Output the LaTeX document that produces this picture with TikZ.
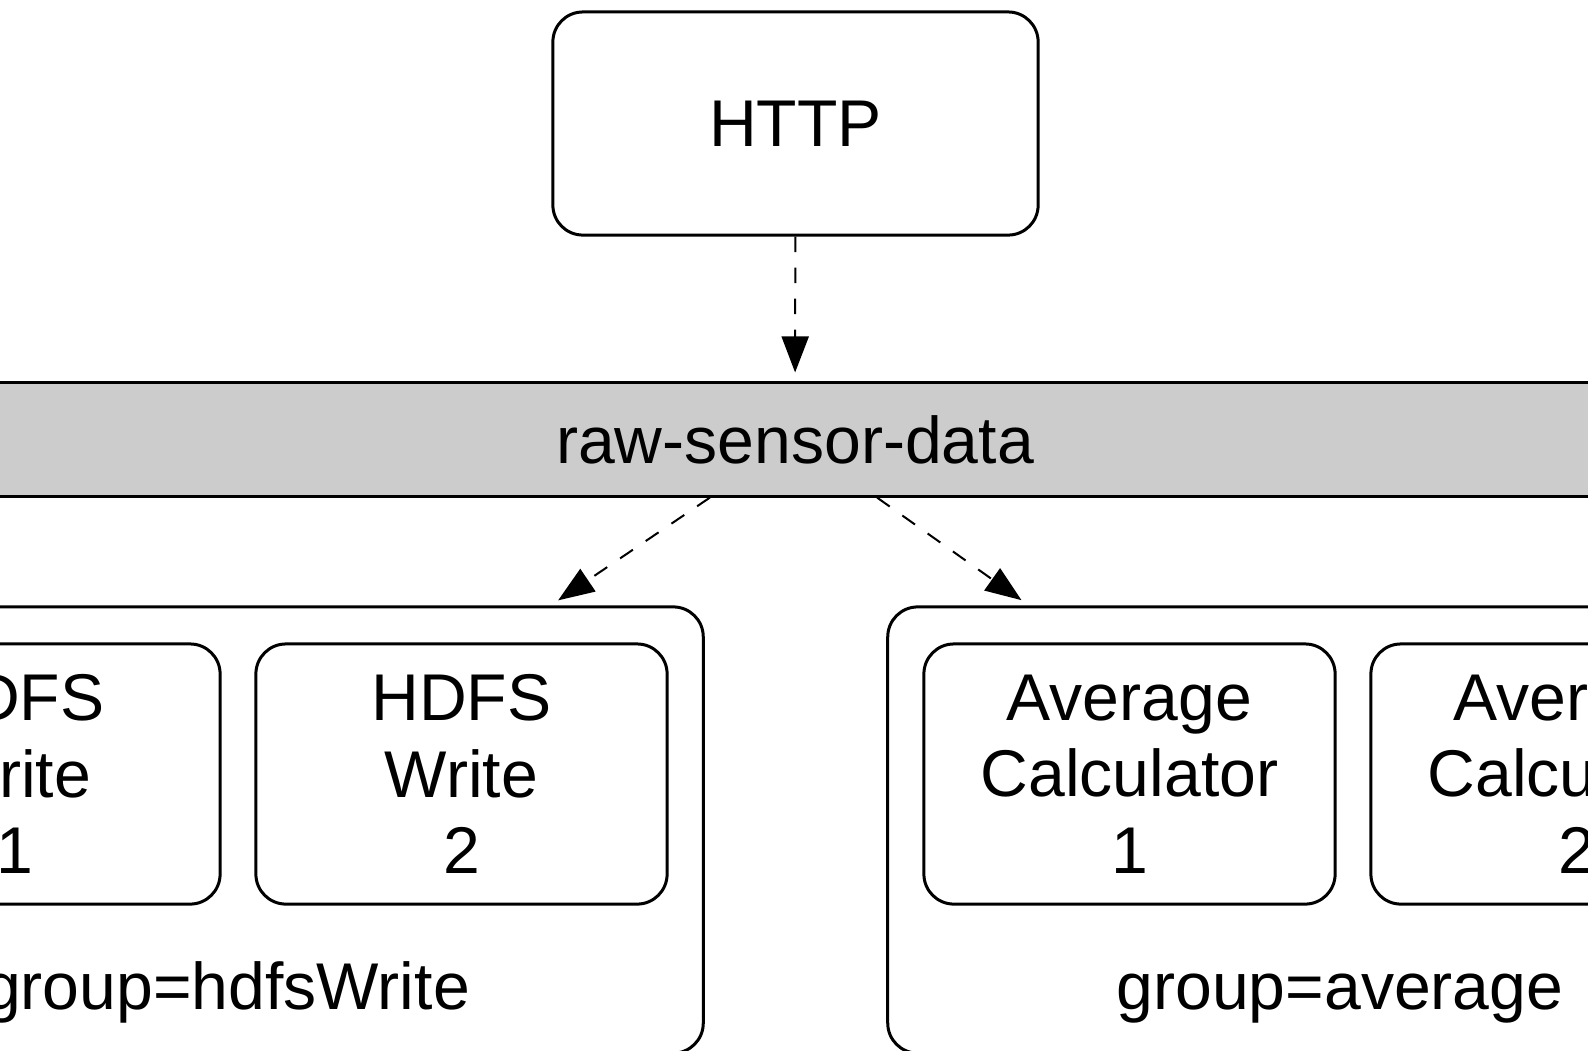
\documentclass[tikz,border=0pt]{standalone}
\usepackage{fontspec}
\setmainfont{Liberation Sans}
\usetikzlibrary{arrows.meta,%
                positioning}

\tikzset{
  proc/.style={draw, line width=0.03cm, rounded corners=0.3cm, minimum width=4.11cm,
               minimum height=2.6cm, align=center, inner sep=0pt},
  grp/.style={draw, line width=0.03cm, rounded corners=0.3cm, minimum width=9.3cm,
              minimum height=4.46cm, inner sep=0pt},
  topic/.style={draw, line width=0.03cm, fill=gray!40, minimum width=16.6cm,
                minimum height=1.13cm},
  flow/.style={line width=0.02cm, dash pattern=on 0.155cm off 0.155cm,
               -{Triangle[length=0.36cm,width=0.27cm]}, shorten >=0.09cm}
}

\begin{document}
\begin{tikzpicture}[x=0.01cm, y=-0.01cm,
  every node/.style={font=\fontsize{18.8pt}{21.8pt}\selectfont}]
\clip (0,0) rectangle (1588,1050);
\node[proc, minimum width=4.85cm, minimum height=2.23cm] (http) at (795.5,123.5) {HTTP};
\node[topic] (bar) at (795,439.5) {raw-sensor-data};
% consumer groups
\node[grp] (hdfsgrp) at (238,830) {};
\node[grp] (avggrp) at (1353,830) {};
\node[proc] (hdfs1) at (14.5,774) {HDFS\\Write\\1};
\node[proc] (hdfs2) at (461.5,774) {HDFS\\Write\\2};
\node[proc] (avg1) at (1129.5,774) {Average\\Calculator\\1};
\node[proc] (avg2) at (1576.5,774) {Average\\Calculator\\2};
\node[anchor=base] (hdfslbl) at (227,1009) {group=hdfsWrite};
\node[anchor=base] (avglbl) at (1340,1009) {group=average};
% flows
\draw[flow] (http) -- (bar);
\draw[flow] ([xshift=-0.85cm]bar.south) -- ([xshift=3.125cm]hdfsgrp.north);
\draw[flow] ([xshift=0.82cm]bar.south) -- ([xshift=-3.24cm]avggrp.north);
\end{tikzpicture}
\end{document}
